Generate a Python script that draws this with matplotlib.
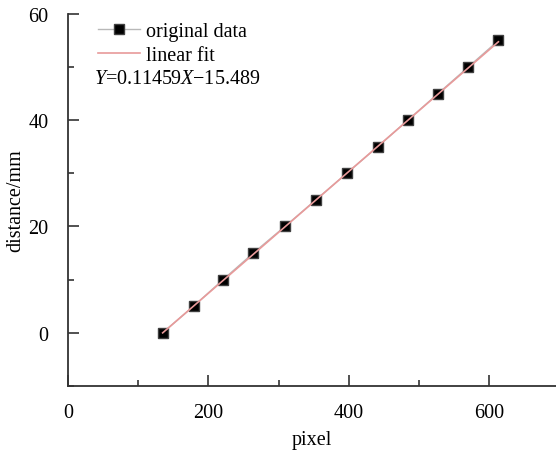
import numpy as np
import matplotlib.pyplot as plt
from matplotlib.ticker import MultipleLocator

plt.rcParams['font.family'] = 'Liberation Serif'
plt.rcParams['mathtext.fontset'] = 'custom'
plt.rcParams['mathtext.it'] = 'Liberation Serif:italic'
plt.rcParams['mathtext.rm'] = 'Liberation Serif'

# measured pixel positions and distances
pixel = [135, 179, 221, 264, 309, 353, 397, 441, 484, 527, 570, 613]
distance = [0, 5, 10, 15, 20, 25, 30, 35, 40, 45, 50, 55]
slope, intercept = 0.11459, -15.489

fig = plt.figure(figsize=(5.56, 4.52), dpi=100)
ax = fig.add_axes([0.122, 0.144, 0.878, 0.823])

x = np.array(pixel)
ax.plot(x, distance, color='#b8b8b8', lw=1, marker='s', ms=7,
        mfc='black', mec='#404040', label='original data')
ax.plot(x, slope * x + intercept, color='#e89a9a', lw=1.2, label='linear fit')

ax.set_xlim(0, 695)
ax.set_ylim(-10, 60)
ax.xaxis.set_major_locator(MultipleLocator(200))
ax.xaxis.set_minor_locator(MultipleLocator(100))
ax.yaxis.set_major_locator(MultipleLocator(20))
ax.yaxis.set_minor_locator(MultipleLocator(10))
ax.tick_params(which='both', direction='in', labelsize=14.5, width=1.2, color='#333333')
ax.tick_params(which='major', length=8)
ax.tick_params(axis='x', which='major', pad=12)
ax.tick_params(axis='y', which='major', pad=14)
ax.tick_params(which='minor', length=4)
for s in ['top', 'right']:
    ax.spines[s].set_visible(False)
for s in ['left', 'bottom']:
    ax.spines[s].set_linewidth(1.3)
    ax.spines[s].set_color('#333333')

ax.set_xlabel('pixel', fontsize=14.5, labelpad=6)
ax.set_ylabel('distance/mm', fontsize=14.5, labelpad=2)

leg = ax.legend(loc='upper left', bbox_to_anchor=(0.025, 1.027), frameon=False,
                fontsize=14.5, handlelength=2.1, handletextpad=0.3, labelspacing=0.25)
ax.text(0.054, 0.815, r'$Y$=0.11459$X$−15.489', transform=ax.transAxes, fontsize=14.5)

plt.savefig('out.png', dpi=100)
